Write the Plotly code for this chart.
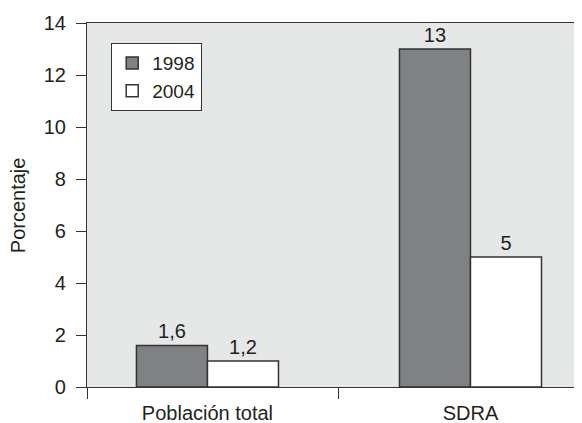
import plotly.graph_objects as go

categories = ["Población total", "SDRA"]
years = ["1998", "2004"]
values_1998 = [1.6, 13]
values_2004 = [1.0, 5]
labels_1998 = ["1,6", "13"]
labels_2004 = ["1,2", "5"]
y_ticks = [0, 2, 4, 6, 8, 10, 12, 14]

FONT = "Liberation Sans, Arial, sans-serif"
TXT = "#231f20"
FS = 20
xpos = list(range(len(categories)))

fig = go.Figure()
fig.add_trace(go.Bar(
    x=xpos, y=values_1998, name=years[0], text=labels_1998,
    textposition="outside", cliponaxis=False,
    textfont=dict(size=FS, color=TXT, family=FONT),
    marker=dict(color="#808184", line=dict(color="#333333", width=1.5)),
))
fig.add_trace(go.Bar(
    x=xpos, y=values_2004, name=years[1], text=labels_2004,
    textposition="outside", cliponaxis=False,
    textfont=dict(size=FS, color=TXT, family=FONT),
    marker=dict(color="#ffffff", line=dict(color="#333333", width=1.5)),
))

# the page body has an 8px default margin, so the figure is 8px smaller
fig.update_layout(
    width=574, height=415,
    margin=dict(l=79, r=0, t=15, b=36, pad=0),
    paper_bgcolor="white", plot_bgcolor="#e6e7e7",
    barmode="group", bargap=0.46, bargroupgap=0,
    font=dict(family=FONT, size=FS, color=TXT),
    showlegend=True,
    legend=dict(
        x=0.0485, y=0.945, xanchor="left", yanchor="top",
        bgcolor="white", bordercolor="#333333", borderwidth=1.2,
        font=dict(size=19, color=TXT, family=FONT),
        itemwidth=30, tracegroupgap=0,
    ),
    xaxis=dict(
        range=[-0.458, 1.424], tickmode="array", tickvals=xpos, ticktext=categories,
        ticks="", showline=True, linecolor="#333333", linewidth=1.2, mirror=True,
        showgrid=False, zeroline=False, automargin=False, ticklabelstandoff=8,
        tickfont=dict(size=FS, color=TXT, family=FONT),
        minor=dict(tickvals=[-0.458, 0.5], ticks="outside", ticklen=11,
                   tickcolor="#333333", tickwidth=1.2, showgrid=False),
    ),
    yaxis=dict(
        range=[0, 14], tickmode="array", tickvals=y_ticks,
        ticks="outside", ticklen=10, tickcolor="#333333", tickwidth=1.2,
        showline=True, linecolor="#333333", linewidth=1.2, mirror=False,
        showgrid=False, zeroline=False, automargin=False, ticklabelstandoff=6,
        tickfont=dict(size=FS, color=TXT, family=FONT),
    ),
    annotations=[dict(
        text="Porcentaje", xref="paper", yref="paper", x=-0.139, y=0.5,
        xanchor="center", yanchor="middle", textangle=-90, showarrow=False,
        font=dict(size=FS, color=TXT, family=FONT),
    )],
)

fig.write_html("out.html")
